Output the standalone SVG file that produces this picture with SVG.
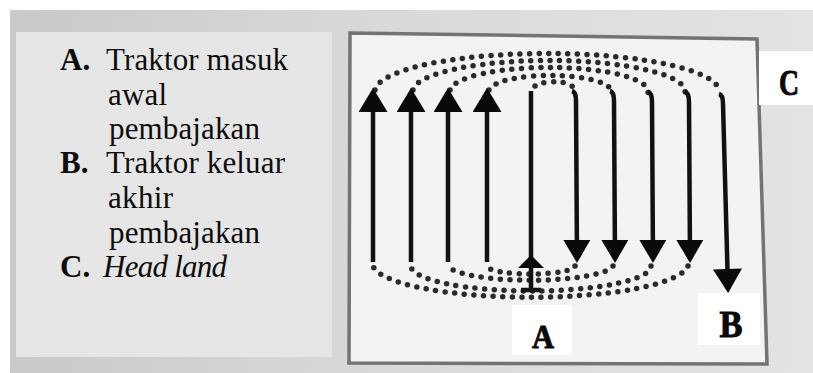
<svg xmlns="http://www.w3.org/2000/svg" width="813" height="373" viewBox="0 0 813 373">
  <style>
    .legend { font-family: "Liberation Serif", "Times New Roman", serif; font-size: 31px; fill: #0d0d0d; }
    .b { font-weight: bold; }
    .i { font-style: italic; }
    .lbl { font-family: "Liberation Serif", "Times New Roman", serif; font-weight: bold; fill: #0a0a0a; stroke: #0a0a0a; stroke-width: 1; text-anchor: middle; }
    .path { fill: none; stroke: #111; stroke-width: 4.5; }
    .dots { fill: none; stroke: #2a2a2a; stroke-width: 5.5; stroke-linecap: round; stroke-dasharray: 0 9.6; }
  </style>
  <defs>
    <linearGradient id="photo" x1="0" y1="0" x2="1" y2="0">
      <stop offset="0" stop-color="#c9c9c9"/>
      <stop offset="0.45" stop-color="#d9d9d9"/>
      <stop offset="1" stop-color="#e3e3e3"/>
    </linearGradient>
    <marker id="ah" markerUnits="userSpaceOnUse" markerWidth="25" markerHeight="29" viewBox="0 0 24 29" refX="20" refY="14.5" orient="auto">
      <path d="M0,0 L24,14.5 L0,29 Z" fill="#0a0a0a"/>
    </marker>
    <marker id="ahd" markerUnits="userSpaceOnUse" markerWidth="24" markerHeight="27" viewBox="0 0 23 27" refX="19" refY="13.5" orient="auto">
      <path d="M0,0 L23,13.5 L0,27 Z" fill="#0a0a0a"/>
    </marker>
  </defs>

  <rect width="813" height="373" fill="#ffffff"/>
  <rect x="10" y="10" width="803" height="363" fill="url(#photo)"/>

  <g id="legend">
    <rect x="16" y="32" width="316" height="325" fill="#e6e6e6"/>
    <text class="legend b" x="60" y="70">A.</text>
    <text class="legend" x="106" y="70" textLength="182">Traktor masuk</text>
    <text class="legend" x="108" y="105" textLength="59">awal</text>
    <text class="legend" x="109" y="139" textLength="151">pembajakan</text>
    <text class="legend b" x="60" y="173">B.</text>
    <text class="legend" x="106" y="173" textLength="179">Traktor keluar</text>
    <text class="legend" x="108" y="208" textLength="65">akhir</text>
    <text class="legend" x="109" y="243" textLength="151">pembajakan</text>
    <text class="legend b" x="60" y="277">C.</text>
    <text class="legend i" x="103" y="277" textLength="124">Head land</text>
  </g>

  <g id="field">
    <polygon points="350,33 757,39 767,364 349,363" fill="#f3f3f3" stroke="#737373" stroke-width="3.5"/>
  </g>

  <g id="connectors">
    <!-- top headland arcs -->
    <path class="dots" d="M375,90 A172,38 0 0 1 719,93"/>
    <path class="dots" d="M413,90 A136,31 0 0 1 685,93"/>
    <path class="dots" d="M450,90 A99,24 0 0 1 648,93"/>
    <path class="dots" d="M489,90 A61,16 0 0 1 611,93"/>
    <path class="dots" d="M535,86 A19,6 0 0 1 572,90"/>
    <!-- bottom headland arcs -->
    <path class="dots" d="M575,266 A44,8 0 0 1 487,266"/>
    <path class="dots" d="M613,266 A83,16 0 0 1 448,266"/>
    <path class="dots" d="M651,266 A120,25 0 0 1 411,266"/>
    <path class="dots" d="M688,266 A158,34 0 0 1 373,266"/>
    <!-- up passes -->
    <path class="path" d="M373,262 L373,92" marker-end="url(#ah)"/>
    <path class="path" d="M411,262 L411,92" marker-end="url(#ah)"/>
    <path class="path" d="M448,262 L448,92" marker-end="url(#ah)"/>
    <path class="path" d="M487,262 L487,92" marker-end="url(#ah)"/>
    <!-- entry pass A -->
    <path class="path" d="M531,291 L531,91"/>
    <path d="M531,255 L544,268 L518,268 Z" fill="#0a0a0a"/>
    <path class="path" d="M521,290 L541,290"/>
    <!-- down passes -->
    <path class="path" d="M572,91 Q576,92 576,101 L577,259" marker-end="url(#ahd)"/>
    <path class="path" d="M610,91 Q614,92 614,101 L615,259" marker-end="url(#ahd)"/>
    <path class="path" d="M648,92 Q652,93 652,102 L653,259" marker-end="url(#ahd)"/>
    <path class="path" d="M685,92 Q689,93 689,102 L690,259" marker-end="url(#ahd)"/>
    <!-- exit pass B -->
    <path class="path" d="M719,94 Q723,95 723,104 L728,289" marker-end="url(#ah)"/>
  </g>

  <g id="label-C">
    <rect x="759" y="51" width="54" height="54" fill="#ffffff"/>
    <text class="lbl" x="789" y="95" font-size="36" textLength="20" lengthAdjust="spacingAndGlyphs">C</text>
  </g>
  <g id="label-B">
    <rect x="698" y="293" width="62" height="52" fill="#ffffff"/>
    <text class="lbl" x="731" y="337" font-size="37" textLength="23" lengthAdjust="spacingAndGlyphs">B</text>
  </g>
  <g id="label-A">
    <rect x="512" y="305" width="60" height="50" fill="#ffffff"/>
    <text class="lbl" x="543" y="348" font-size="34" textLength="22" lengthAdjust="spacingAndGlyphs">A</text>
  </g>
</svg>
